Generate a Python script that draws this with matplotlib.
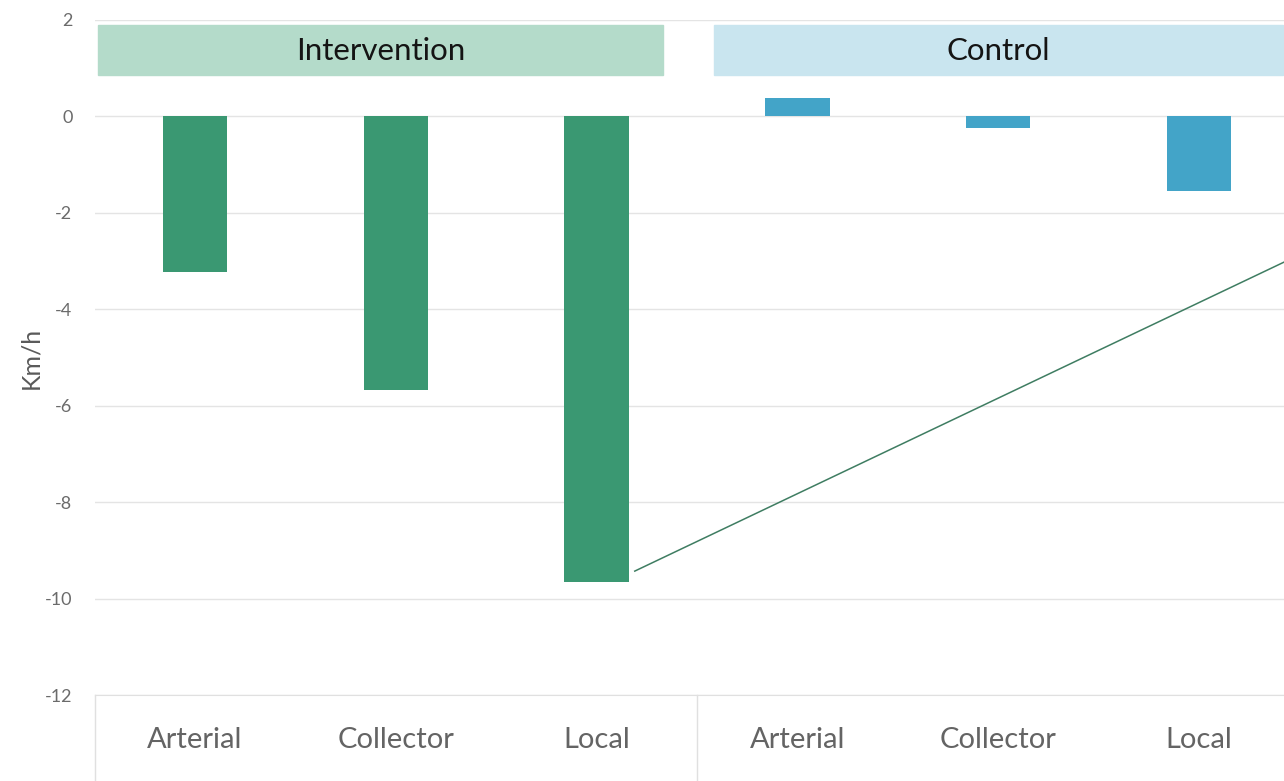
import numpy as np
import matplotlib.pyplot as plt
from matplotlib.patches import Rectangle
from matplotlib.transforms import blended_transform_factory

plt.rcParams['font.family'] = ['Lato', 'DejaVu Sans']

# speed change per road type, km/h
road_types = ['Arterial', 'Collector', 'Local', 'Arterial', 'Collector', 'Local']
groups = ['Intervention', 'Control']
intervention = [-3.22, -5.67, -9.65]
control = [0.39, -0.24, -1.54]
# straight guide line drawn across the right half
trend_x = [2.19, 5.5]
trend_y = [-9.43, -2.87]
yticks = [2, 0, -2, -4, -6, -8, -10, -12]

green = '#3a9872'
blue = '#43a4c8'

fig = plt.figure(figsize=(12.84, 7.81), dpi=100)
ax = fig.add_axes([0.0737, 0.1101, 0.9383, 0.8643])

xi = np.arange(len(intervention))
xc = np.arange(len(control)) + len(intervention)
ax.bar(xi, intervention, width=0.32, color=green, zorder=3)
ax.bar(xc, control, width=0.32, color=blue, zorder=3)
ax.plot(trend_x, trend_y, color='#3f7d62', lw=1.1, zorder=4)

# group header bands
ax.add_patch(Rectangle((-0.483, 0.86), 2.814, 1.035, color='#b4dbca', zorder=2))
ax.add_patch(Rectangle((2.585, 0.86), 2.835, 1.035, color='#c9e5ef', zorder=2))
ax.text((-0.483 + 2.331) / 2, 1.36, groups[0], ha='center', va='center',
        fontsize=22.5, color='#141414', zorder=5)
ax.text((2.585 + 5.42) / 2, 1.36, groups[1], ha='center', va='center',
        fontsize=22.5, color='#141414', zorder=5)

ax.set_xlim(-0.5, 5.5)
ax.set_ylim(-12, 2)
ax.set_yticks(yticks)
ax.set_yticklabels([str(t) for t in yticks])
ax.yaxis.grid(True, color='#e4e4e4', lw=1)
ax.set_axisbelow(True)
ax.tick_params(axis='y', length=0, pad=16, labelsize=13, labelcolor='#6b6b6b')

ax.set_xticks(np.arange(len(road_types)))
ax.set_xticklabels(road_types)
ax.tick_params(axis='x', length=0, pad=23, labelsize=21, labelcolor='#646464')

for s in ['top', 'right', 'left']:
    ax.spines[s].set_visible(False)
ax.spines['bottom'].set_color('#e0e0e0')

ax.set_ylabel('Km/h', fontsize=18, color='#5a5a5a', labelpad=2)

# vertical separators under the category axis
trans = blended_transform_factory(ax.transData, ax.transAxes)
for xs in [-0.5, 2.5, 5.5]:
    ax.plot([xs, xs], [0, -0.15], transform=trans, color='#e0e0e0', lw=1,
            clip_on=False)

fig.savefig('out.png', dpi=100)
